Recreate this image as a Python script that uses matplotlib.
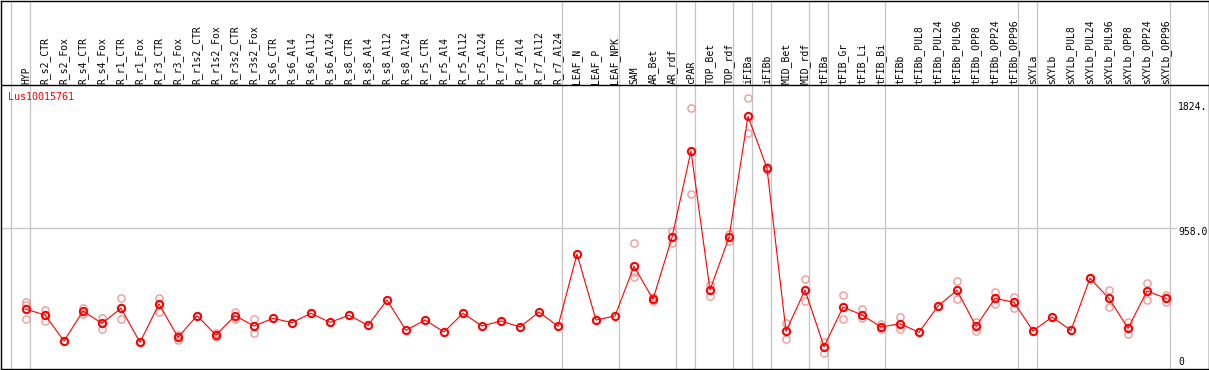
import matplotlib
matplotlib.use("Agg")
import matplotlib.pyplot as plt
import numpy as np

# ---------------- data ----------------
gene = "Lus10015761"
categories = [
    "HYP", "R_s2_CTR", "R_s2_Fox", "R_s4_CTR", "R_s4_Fox", "R_r1_CTR", "R_r1_Fox",
    "R_r3_CTR", "R_r3_Fox", "R_r1s2_CTR", "R_r1s2_Fox", "R_r3s2_CTR", "R_r3s2_Fox",
    "R_s6_CTR", "R_s6_Al4", "R_s6_Al12", "R_s6_Al24", "R_s8_CTR", "R_s8_Al4",
    "R_s8_Al12", "R_s8_Al24", "R_r5_CTR", "R_r5_Al4", "R_r5_Al12", "R_r5_Al24",
    "R_r7_CTR", "R_r7_Al4", "R_r7_Al12", "R_r7_Al24", "LEAF_N", "LEAF_P", "LEAF_NPK",
    "SAM", "AR_Bet", "AR_rdf", "cPAR", "TOP_Bet", "TOP_rdf", "iFIBa", "iFIBb",
    "MID_Bet", "MID_rdf", "tFIBa", "tFIB_Gr", "tFIB_Li", "tFIB_Bi", "tFIBb",
    "tFIBb_PUL8", "tFIBb_PUL24", "tFIBb_PUL96", "tFIBb_OPP8", "tFIBb_OPP24",
    "tFIBb_OPP96", "sXYLa", "sXYLb", "sXYLb_PUL8", "sXYLb_PUL24", "sXYLb_PUL96",
    "sXYLb_OPP8", "sXYLb_OPP24", "sXYLb_OPP96",
]
means = [
    378, 337, 150, 365, 277, 385, 141, 416, 177, 332, 193, 332, 258,
    313, 282, 349, 284, 335, 263, 444, 227, 301, 215, 349, 258,
    294, 251, 358, 256, 774, 301, 330,
    686, 449, 893, 1512, 516, 893, 1760, 1388,
    220, 516, 110, 394, 337, 251, 274,
    213, 401, 514, 256, 456, 428,
    222, 322, 227, 600, 456, 241, 509, 456,
]
replicates = [
    [432, 408, 306], [372, 294, 337], [150, 150], [389, 342, 365], [317, 234, 277],
    [456, 306, 385], [141], [456, 360, 416], [193, 158], [332], [206, 177],
    [360, 306], [306, 206],
    [], [], [], [], [], [], [], [], [], [], [], [], [], [], [], [],
    [], [], [],
    [853, 611, 647], [466, 437], [941, 850], [1818, 1202], [552, 475], [917, 869],
    [1890, 1639], [1399, 1376],
    [280, 163], [593, 437], [141, 62], [480, 306], [380, 313], [270, 234], [325, 237],
    [213], [401], [580, 449], [289, 224], [504, 416], [468, 389],
    [222], [], [], [600], [514, 396], [285, 201], [564, 444], [480, 432],
]
group_sizes = [1, 28, 3, 3, 1, 2, 1, 1, 2, 1, 3, 7, 1, 7]
ytick_values = [1824, 958, 0]
ytick_labels = ["1824.", "958.0", "0"]

# ---------------- layout ----------------
W, H = 1209, 370
fig = plt.figure(figsize=(W / 100, H / 100), dpi=100)
ax = fig.add_axes([0.5 / W, 1.5 / H, 1208 / W, 368 / H])

x0_px, step_px = 26.0, 19.0      # pixel x of first category, spacing
zero_px, scale = 362.0, 0.13956  # pixel y of value 0, px per unit

def px_to_x(p):
    return (p - x0_px) / step_px

def py_to_v(p):
    return (zero_px - p) / scale

ax.set_xlim(px_to_x(0.5), px_to_x(1208.5))
ax.set_ylim(py_to_v(368.5), py_to_v(0.5))
ax.set_xticks([])
ax.set_yticks([])
for s in ax.spines.values():
    s.set_color("black")
    s.set_linewidth(1.0)

x = np.arange(len(categories))

# vertical group separators
ends = np.cumsum(group_sizes) - 1
sep = np.concatenate([[-1], ends]) + 4 / 19
for s in sep:
    ax.axvline(s, color="#c4c4c4", lw=0.9, zorder=1)

# header separator
header_v = py_to_v(85)
ax.axhline(header_v, color="black", lw=1.0, zorder=3)

# horizontal gridline at middle tick
ax.hlines(ytick_values[1], px_to_x(0.5), px_to_x(1177), color="#c4c4c4", lw=0.9, zorder=1)

# replicates
rx = [i for i, r in enumerate(replicates) for _ in r]
ry = [v for r in replicates for v in r]
ax.plot(rx, ry, linestyle="none", marker="o", ms=5.2, mfc="none",
        mec="#ee9a9a", mew=1.0, zorder=4)

# mean line + markers
ax.plot(x, means, color="#ff0000", lw=0.8, zorder=5)
ax.plot(x, means, linestyle="none", marker="o", ms=5.2, mfc="none",
        mec="#ff0000", mew=1.5, zorder=6)

# category labels in header
mono = "DejaVu Sans Mono"
label_v = py_to_v(83.5)
for i, name in enumerate(categories):
    ax.text(i, label_v, name, rotation=90, ha="center", va="bottom",
            fontsize=7, family=mono, color="black", zorder=7)

# gene name
ax.text(px_to_x(8), py_to_v(97), gene, ha="left", va="center",
        fontsize=7.2, family=mono, color="#ff0000", zorder=7)

# right-side value labels
label_offsets_px = [0, 4, 0]
for v, lab, off in zip(ytick_values, ytick_labels, label_offsets_px):
    ax.text(px_to_x(1178), v - off / scale, lab, ha="left", va="center",
            fontsize=7, family=mono, color="black", clip_on=True, zorder=7)

fig.savefig("out.png", dpi=100)
